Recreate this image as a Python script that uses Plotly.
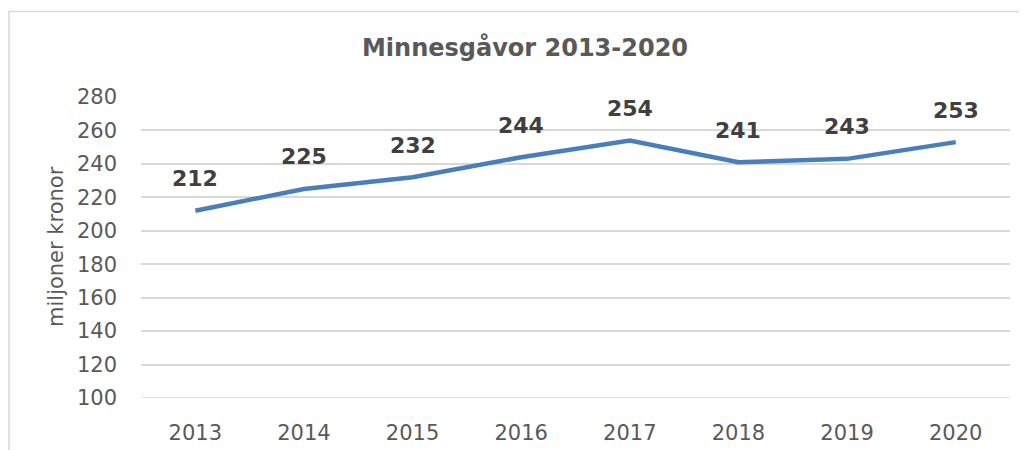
import plotly.graph_objects as go

years = ["2013", "2014", "2015", "2016", "2017", "2018", "2019", "2020"]
values = [212, 225, 232, 244, 254, 241, 243, 253]
y_ticks = [100, 120, 140, 160, 180, 200, 220, 240, 260, 280]

# page has an 8px body margin; figure sized to fit the window
OFF = 8
W, H = 1019, 442
ml, mr, mt, mb = 141 - OFF, 17, 97 - OFF, 52
pw, ph = W - ml - mr, H - mt - mb

fig = go.Figure()
fig.add_trace(go.Scatter(
    x=years, y=values, mode="lines",
    line=dict(color="#4a7ebb", width=4.5),
    hoverinfo="x+y", showlegend=False,
))

for i, v in enumerate(values):
    fig.add_annotation(x=i, y=v, xref="x", yref="y", text=f"<b>{v}</b>", showarrow=False,
                       yshift=32, yanchor="middle",
                       font=dict(family="DejaVu Sans", size=22, color="#404040"))

def px_x(p):
    return (p - OFF - ml) / pw

def px_y(p):
    return 1 - (p - OFF - mt) / ph

# chart border (left and top visible)
fig.add_shape(type="rect", xref="paper", yref="paper",
              x0=px_x(9), x1=px_x(1060), y0=px_y(480), y1=px_y(11.5),
              line=dict(color="#d9d9d9", width=1.5), layer="below")

# bottom gridline (plotly omits the gridline at the range edge)
fig.add_shape(type="line", xref="paper", yref="y", x0=0, x1=1,
              y0=y_ticks[0], y1=y_ticks[0],
              line=dict(color="#d9d9d9", width=1.5), layer="below")

fig.add_annotation(xref="paper", yref="paper", x=px_x(56), y=px_y(247),
                   text="miljoner kronor", textangle=-90, showarrow=False,
                   xanchor="center", yanchor="middle",
                   font=dict(family="DejaVu Sans", size=21, color="#595959"))

fig.update_layout(
    width=W, height=H,
    margin=dict(l=ml, r=mr, t=mt, b=mb, autoexpand=False),
    paper_bgcolor="white", plot_bgcolor="white",
    title=dict(text="<b>Minnesgåvor 2013-2020</b>", x=(525 - OFF) / W, xanchor="center",
               y=1 - (48 - OFF) / H, yanchor="middle", yref="container",
               font=dict(family="DejaVu Sans", size=24, color="#595959")),
    font=dict(family="DejaVu Sans", color="#595959"),
)
fig.update_xaxes(type="category", showgrid=False, showline=False, ticks="",
                 tickfont=dict(size=21, color="#595959"), ticklabelstandoff=20,
                 range=[-0.5, 7.5], automargin=False)
fig.update_yaxes(range=[y_ticks[0], y_ticks[-1]], tickvals=y_ticks, showgrid=True,
                 gridcolor="#d9d9d9", gridwidth=1.5, zeroline=False, showline=False,
                 ticks="", tickfont=dict(size=21, color="#595959"),
                 ticklabelstandoff=23, automargin=False)

fig.write_html("out.html")
